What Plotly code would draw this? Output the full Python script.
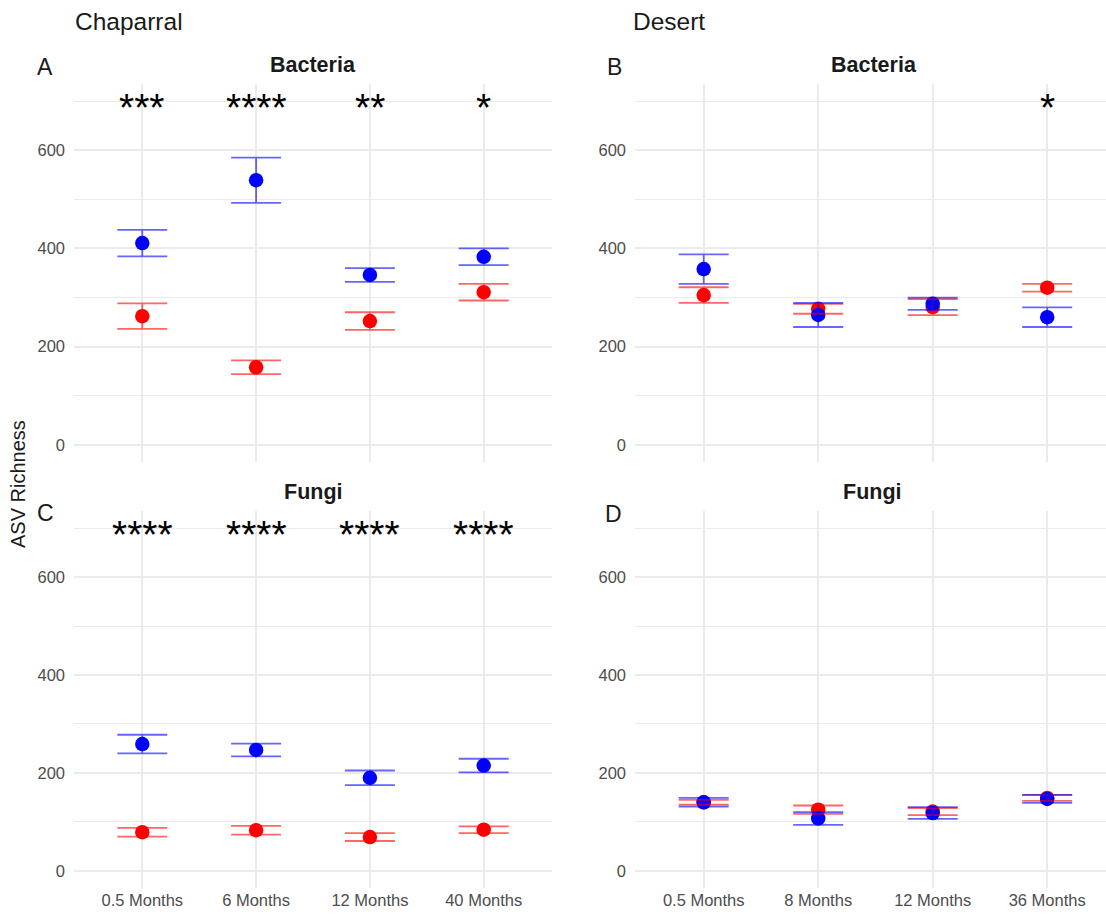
import plotly.graph_objects as go

# Sampling times per site
chap_months = ["0.5 Months", "6 Months", "12 Months", "40 Months"]
desert_months = ["0.5 Months", "8 Months", "12 Months", "36 Months"]

# Mean ASV richness and standard error per panel (blue = unburned, red = burned)
chap_bact_unburned = [411, 539, 346, 383]
chap_bact_unburned_se = [27, 46, 14, 17]
chap_bact_burned = [262, 158, 252, 311]
chap_bact_burned_se = [26, 14, 18, 17]

desert_bact_unburned = [358, 264.5, 287.5, 260]
desert_bact_unburned_se = [30, 24.5, 12.5, 20]
desert_bact_burned = [305, 277, 280.5, 320]
desert_bact_burned_se = [16, 10, 16.5, 8]

chap_fungi_unburned = [259, 247, 190, 215]
chap_fungi_unburned_se = [19, 13, 15, 14]
chap_fungi_burned = [79, 83, 69, 84]
chap_fungi_burned_se = [9, 9, 8, 7]

desert_fungi_unburned = [140, 107, 118, 147]
desert_fungi_unburned_se = [9, 13, 12, 8]
desert_fungi_burned = [140, 125, 121, 149]
desert_fungi_burned_se = [5, 8.5, 7, 6]

# Significance labels per time point
chap_bact_sig = ["***", "****", "**", "*"]
desert_bact_sig = ["", "", "", "*"]
chap_fungi_sig = ["****", "****", "****", "****"]
desert_fungi_sig = ["", "", "", ""]

sig_y = 700

FONT = "Liberation Sans"
W, H = 1106, 915

BLUE = "#0000FF"
RED = "#FF0000"
BLUE_ERR = "rgba(0,0,255,0.6)"
RED_ERR = "rgba(255,0,0,0.6)"

panels = [
    # (xaxis id, yaxis id, categories, blue, blue_se, red, red_se, sig)
    ("x", "y", chap_months, chap_bact_unburned, chap_bact_unburned_se,
     chap_bact_burned, chap_bact_burned_se, chap_bact_sig),
    ("x2", "y2", desert_months, desert_bact_unburned, desert_bact_unburned_se,
     desert_bact_burned, desert_bact_burned_se, desert_bact_sig),
    ("x3", "y3", chap_months, chap_fungi_unburned, chap_fungi_unburned_se,
     chap_fungi_burned, chap_fungi_burned_se, chap_fungi_sig),
    ("x4", "y4", desert_months, desert_fungi_unburned, desert_fungi_unburned_se,
     desert_fungi_burned, desert_fungi_burned_se, desert_fungi_sig),
]

fig = go.Figure()
annotations = []

for xa, ya, cats, b, bse, r, rse, sig in panels:
    # points first, burned then unburned
    for vals, col, name in ((r, RED, "Burned"), (b, BLUE, "Unburned")):
        fig.add_trace(go.Scatter(
            x=cats, y=vals, mode="markers", xaxis=xa, yaxis=ya,
            marker=dict(color=col, size=14.5, line=dict(width=0)),
            name=name, showlegend=False, hoverinfo="x+y"))
    # error bars drawn on top of the points
    for vals, se, col in ((r, rse, RED_ERR), (b, bse, BLUE_ERR)):
        fig.add_trace(go.Scatter(
            x=cats, y=vals, mode="markers", xaxis=xa, yaxis=ya,
            marker=dict(size=0.1, opacity=0),
            error_y=dict(type="data", array=se, visible=True,
                         color=col, thickness=1.8, width=25),
            showlegend=False, hoverinfo="skip"))
    for c, s in zip(cats, sig):
        if s:
            annotations.append(dict(
                x=c, y=sig_y, xref=xa, yref=ya, text=s, showarrow=False,
                font=dict(family=FONT, size=39, color="black"),
                xanchor="center", yanchor="middle", yshift=-6))

# panel geometry in pixels
left_x = (74 / W, 552 / W)
right_x = (635 / W, 1.0)
top_y = (1 - 462 / H, 1 - 84 / H)
bot_y = (1 - 888 / H, 1 - 511 / H)

grid = "#EBEBEB"


def xaxis(domain, anchor, rng, show_labels):
    return dict(domain=domain, anchor=anchor, type="category", range=rng,
                showgrid=True, gridcolor=grid, gridwidth=1.5,
                showline=False, zeroline=False, ticks="",
                showticklabels=show_labels,
                tickfont=dict(family=FONT, size=16.5, color="#4D4D4D"))


def yaxis(domain, anchor):
    return dict(domain=domain, anchor=anchor, range=[-35, 735],
                tickvals=[0, 200, 400, 600], showgrid=True, gridcolor=grid,
                gridwidth=1.5, zeroline=False, showline=False, ticks="",
                ticklabelstandoff=8,
                minor=dict(tickvals=[100, 300, 500, 700], showgrid=True,
                           gridcolor=grid, gridwidth=0.9),
                tickfont=dict(family=FONT, size=16.5, color="#4D4D4D"))


right_range = [-0.6, -0.6 + (W - 635) / 114.5]

fig.update_layout(
    width=W, height=H,
    margin=dict(l=0, r=0, t=0, b=0),
    paper_bgcolor="white", plot_bgcolor="white",
    showlegend=False,
    xaxis=xaxis(left_x, "y", [-0.6, 3.6], False),
    yaxis=yaxis(top_y, "x"),
    xaxis2=xaxis(right_x, "y2", right_range, False),
    yaxis2=yaxis(top_y, "x2"),
    xaxis3=xaxis(left_x, "y3", [-0.6, 3.6], True),
    yaxis3=yaxis(bot_y, "x3"),
    xaxis4=xaxis(right_x, "y4", right_range, True),
    yaxis4=yaxis(bot_y, "x4"),
)


def px_ann(text, x, y, size, bold=False, xanchor="left", angle=0,
           color="#1A1A1A"):
    return dict(text=f"<b>{text}</b>" if bold else text,
                x=x / W, y=1 - y / H, xref="paper", yref="paper",
                showarrow=False, xanchor=xanchor, yanchor="middle",
                textangle=angle,
                font=dict(family=FONT, size=size, color=color))


annotations += [
    px_ann("Chaparral", 73, 21, 24.5),
    px_ann("Desert", 631, 21, 24.5),
    px_ann("A", 35, 67, 23),
    px_ann("B", 605, 67, 23),
    px_ann("C", 35, 513, 23),
    px_ann("D", 603, 514, 23),
    px_ann("Bacteria", 313, 65, 21.5, bold=True, xanchor="center"),
    px_ann("Bacteria", 874, 65, 21.5, bold=True, xanchor="center"),
    px_ann("Fungi", 313, 492, 21.5, bold=True, xanchor="center"),
    px_ann("Fungi", 872, 492, 21.5, bold=True, xanchor="center"),
    px_ann("ASV Richness", 18, 484, 20, xanchor="center", angle=-90),
]
fig.update_layout(annotations=annotations)

fig.write_html("out.html")
